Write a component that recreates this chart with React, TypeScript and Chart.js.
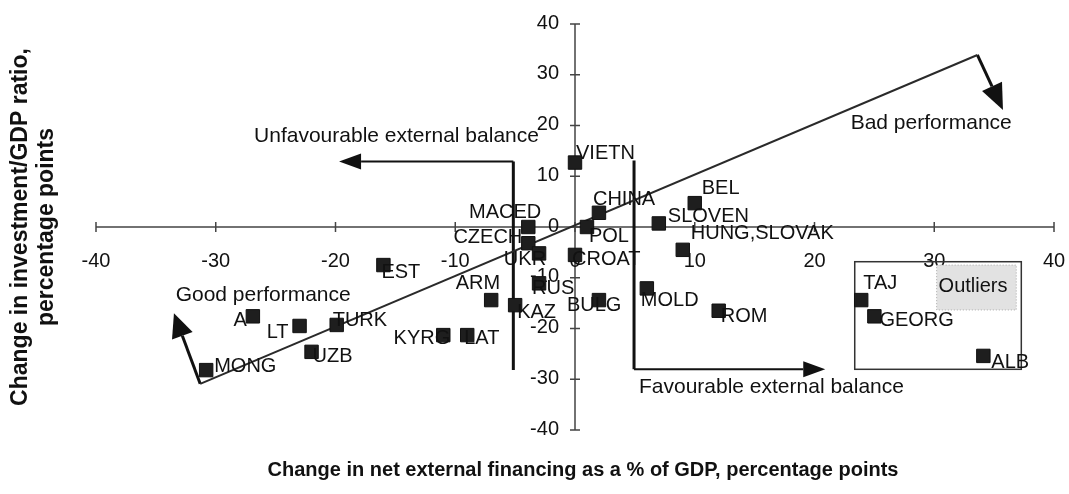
import React, { useEffect, useRef } from 'react';
import { Chart, registerables } from 'chart.js';

Chart.register(...registerables);

// ---- Data ----
const countries = ['VIETN', 'CHINA', 'POL', 'SLOVEN', 'BEL', 'HUNG,SLOVAK', 'MACED', 'CZECH', 'UKR', 'CROAT', 'RUS', 'BULG', 'KAZ', 'ARM', 'MOLD', 'EST', 'KYRG', 'LAT', 'A', 'LT', 'TURK', 'UZB', 'MONG', 'ROM', 'TAJ', 'GEORG', 'ALB'];
const netFinancingChange = [0.0, 2.0, 1.0, 7.0, 10.0, 9.0, -3.9, -3.9, -3.0, 0.0, -3.0, 2.0, -5.0, -7.0, 6.0, -16.0, -11.0, -9.0, -26.9, -23.0, -19.9, -22.0, -30.8, 12.0, 23.9, 25.0, 34.1];
const investmentChange = [12.7, 2.8, 0.0, 0.7, 4.7, -4.5, 0.0, -3.2, -5.2, -5.5, -11.1, -14.4, -15.4, -14.4, -12.1, -7.5, -21.3, -21.3, -17.6, -19.5, -19.3, -24.6, -28.2, -16.5, -14.4, -17.6, -25.4];

const trendX = [-31.3, 33.6];
const trendY = [-30.9, 33.9];

const xTicks = [-40, -30, -20, -10, 0, 10, 20, 30, 40];
const yTicks = [-40, -30, -20, -10, 0, 10, 20, 30, 40];

const xTitle = 'Change in net external financing as a % of GDP, percentage points';
const yTitleLines = ['Change in investment/GDP ratio,', 'percentage points'];

// label placement: [dx, dy, align] in px relative to marker centre (style, not data)
const labelPlacement: [number, number, CanvasTextAlign][] = [
  [1, -9, 'left'],     // VIETN
  [-6, -13, 'left'],   // CHINA
  [2, 9, 'left'],      // POL
  [9, -7, 'left'],     // SLOVEN
  [7, -15, 'left'],    // BEL
  [8, -16, 'left'],    // HUNG,SLOVAK
  [13, -15, 'right'],  // MACED
  [-6, -6, 'right'],   // CZECH
  [7, 6, 'right'],     // UKR
  [-3, 5, 'left'],     // CROAT
  [-7, 5, 'left'],     // RUS
  [-32, 5, 'left'],    // BULG
  [2, 7, 'left'],      // KAZ
  [9, -17, 'right'],   // ARM
  [-6, 12, 'left'],    // MOLD
  [-2, 7, 'left'],     // EST
  [7, 3, 'right'],     // KYRG
  [-3, 3, 'left'],     // LAT
  [-6, 4, 'right'],    // A
  [-11, 7, 'right'],   // LT
  [-4, -4, 'left'],    // TURK
  [1, 5, 'left'],      // UZB
  [8, -4, 'left'],     // MONG
  [2, 6, 'left'],      // ROM
  [2, -17, 'left'],    // TAJ
  [5, 4, 'left'],      // GEORG
  [8, 7, 'left'],      // ALB
];

const FONT = '"Liberation Sans", Arial, sans-serif';

function drawArrow(ctx: CanvasRenderingContext2D, x1: number, y1: number, x2: number, y2: number, headLen: number, headW: number, lw: number) {
  const ang = Math.atan2(y2 - y1, x2 - x1);
  const bx = x2 - headLen * Math.cos(ang);
  const by = y2 - headLen * Math.sin(ang);
  ctx.save();
  ctx.strokeStyle = '#111';
  ctx.fillStyle = '#111';
  ctx.lineWidth = lw;
  ctx.beginPath();
  ctx.moveTo(x1, y1);
  ctx.lineTo(bx, by);
  ctx.stroke();
  const px = -Math.sin(ang) * headW / 2;
  const py = Math.cos(ang) * headW / 2;
  ctx.beginPath();
  ctx.moveTo(x2, y2);
  ctx.lineTo(bx + px, by + py);
  ctx.lineTo(bx - px, by - py);
  ctx.closePath();
  ctx.fill();
  ctx.restore();
}

const decorPlugin = {
  id: 'decor',
  beforeDatasetsDraw(chart: any) {
    const ctx: CanvasRenderingContext2D = chart.ctx;
    const xs = chart.scales.x;
    const ys = chart.scales.y;
    const X = (v: number) => xs.getPixelForValue(v);
    const Y = (v: number) => ys.getPixelForValue(v);
    ctx.save();
    // axes
    ctx.strokeStyle = '#444';
    ctx.lineWidth = 1.5;
    ctx.beginPath();
    ctx.moveTo(X(xTicks[0]), Y(0));
    ctx.lineTo(X(xTicks[xTicks.length - 1]), Y(0));
    ctx.moveTo(X(0), Y(yTicks[0]));
    ctx.lineTo(X(0), Y(yTicks[yTicks.length - 1]));
    ctx.stroke();
    ctx.beginPath();
    xTicks.forEach(t => { ctx.moveTo(X(t), Y(0) - 5); ctx.lineTo(X(t), Y(0) + 5); });
    yTicks.forEach(t => { ctx.moveTo(X(0) - 5, Y(t)); ctx.lineTo(X(0) + 5, Y(t)); });
    ctx.stroke();
    // tick labels
    ctx.fillStyle = '#111';
    ctx.font = `20px ${FONT}`;
    ctx.textBaseline = 'middle';
    ctx.textAlign = 'center';
    xTicks.forEach(t => ctx.fillText(String(t), X(t), Y(0) + 34));
    ctx.textAlign = 'right';
    yTicks.forEach(t => ctx.fillText(String(t), X(0) - 16, Y(t) - 1));

    // balance lines
    ctx.strokeStyle = '#111';
    ctx.lineWidth = 3;
    ctx.beginPath();
    ctx.moveTo(X(-5.15), Y(12.9));
    ctx.lineTo(X(-5.15), Y(-28.2));
    ctx.moveTo(X(4.93), Y(13.1));
    ctx.lineTo(X(4.93), Y(-28.05));
    ctx.stroke();
    drawArrow(ctx, X(-5.15), Y(12.9), X(-19.7), Y(12.9), 22, 16, 2);
    drawArrow(ctx, X(4.93), Y(-28.05), X(20.9), Y(-28.05), 22, 16, 2);
    // performance arrows
    drawArrow(ctx, X(trendX[1]), Y(trendY[1]), X(35.74), Y(23.05), 26, 22, 3);
    drawArrow(ctx, X(trendX[0]), Y(trendY[0]), X(-33.49), Y(-17.0), 24, 22, 3);

    // outliers box
    ctx.fillStyle = '#e2e2e2';
    ctx.fillRect(X(30.2), Y(-7.5), X(36.85) - X(30.2), Y(-16.35) - Y(-7.5));
    ctx.setLineDash([1, 2]);
    ctx.strokeStyle = '#aaa';
    ctx.lineWidth = 1;
    ctx.strokeRect(X(30.2), Y(-7.5), X(36.85) - X(30.2), Y(-16.35) - Y(-7.5));
    ctx.setLineDash([]);
    ctx.strokeStyle = '#333';
    ctx.lineWidth = 1.5;
    ctx.strokeRect(X(23.36), Y(-6.84), X(37.27) - X(23.36), Y(-28.04) - Y(-6.84));
    ctx.restore();
  },
  afterDatasetsDraw(chart: any) {
    const ctx: CanvasRenderingContext2D = chart.ctx;
    const xs = chart.scales.x;
    const ys = chart.scales.y;
    const X = (v: number) => xs.getPixelForValue(v);
    const Y = (v: number) => ys.getPixelForValue(v);
    ctx.save();
    ctx.fillStyle = '#111';
    ctx.textBaseline = 'middle';
    // country labels
    ctx.font = `20px ${FONT}`;
    countries.forEach((c, i) => {
      const [dx, dy, al] = labelPlacement[i];
      ctx.textAlign = al;
      ctx.fillText(c, X(netFinancingChange[i]) + dx, Y(investmentChange[i]) + dy);
    });
    // annotation texts
    ctx.font = `21px ${FONT}`;
    ctx.textAlign = 'left';
    ctx.fillText('Unfavourable external balance', X(-26.8), Y(17.93));
    ctx.fillText('Bad performance', X(23.02), Y(20.43));
    ctx.fillText('Good performance', X(-33.35), Y(-13.4));
    ctx.fillText('Favourable external balance', X(5.34), Y(-31.47));
    ctx.font = `20px ${FONT}`;
    ctx.textAlign = 'center';
    ctx.fillText('Outliers', X(33.24), Y(-11.76));

    // axis titles
    ctx.font = `bold 20px ${FONT}`;
    ctx.textAlign = 'center';
    ctx.fillText(xTitle, (X(-40) + X(40)) / 2 + 8, 470);
    ctx.font = `bold 23px ${FONT}`;
    const cy = Y(0);
    ctx.translate(21, cy);
    ctx.rotate(-Math.PI / 2);
    ctx.fillText(yTitleLines[0], 0, 0);
    ctx.fillText(yTitleLines[1], 0, 26);
    ctx.restore();
  },
};

export default function App() {
  const ref = useRef<HTMLCanvasElement | null>(null);
  useEffect(() => {
    if (!ref.current) return;
    const points = netFinancingChange.map((x, i) => ({ x, y: investmentChange[i] }));
    const trend = trendX.map((x, i) => ({ x, y: trendY[i] }));
    const chart = new Chart(ref.current, {
      type: 'scatter',
      data: {
        datasets: [
          {
            type: 'scatter',
            data: points,
            pointStyle: 'rect',
            pointRadius: 9.5,
            pointBackgroundColor: '#1e1e1e',
            pointBorderColor: '#111',
            pointBorderWidth: 1,
            order: 0,
          } as any,
          {
            type: 'line',
            data: trend,
            borderColor: '#2a2a2a',
            borderWidth: 2,
            pointRadius: 0,
            fill: false,
            order: 1,
          } as any,
        ],
      },
      options: {
        animation: false,
        responsive: false,
        events: [],
        layout: { padding: { left: 96, right: 15, top: 24, bottom: 64 } },
        plugins: { legend: { display: false }, tooltip: { enabled: false } },
        scales: {
          x: { type: 'linear', min: -40, max: 40, display: false },
          y: { type: 'linear', min: -40, max: 40, display: false },
        },
      },
      plugins: [decorPlugin],
    });
    return () => chart.destroy();
  }, []);
  return (
    <div style={{ position: 'absolute', left: 0, top: 0, width: 1069, height: 494, background: '#fff' }}>
      <canvas ref={ref} width={1069} height={494} style={{ display: 'block' }} />
    </div>
  );
}
